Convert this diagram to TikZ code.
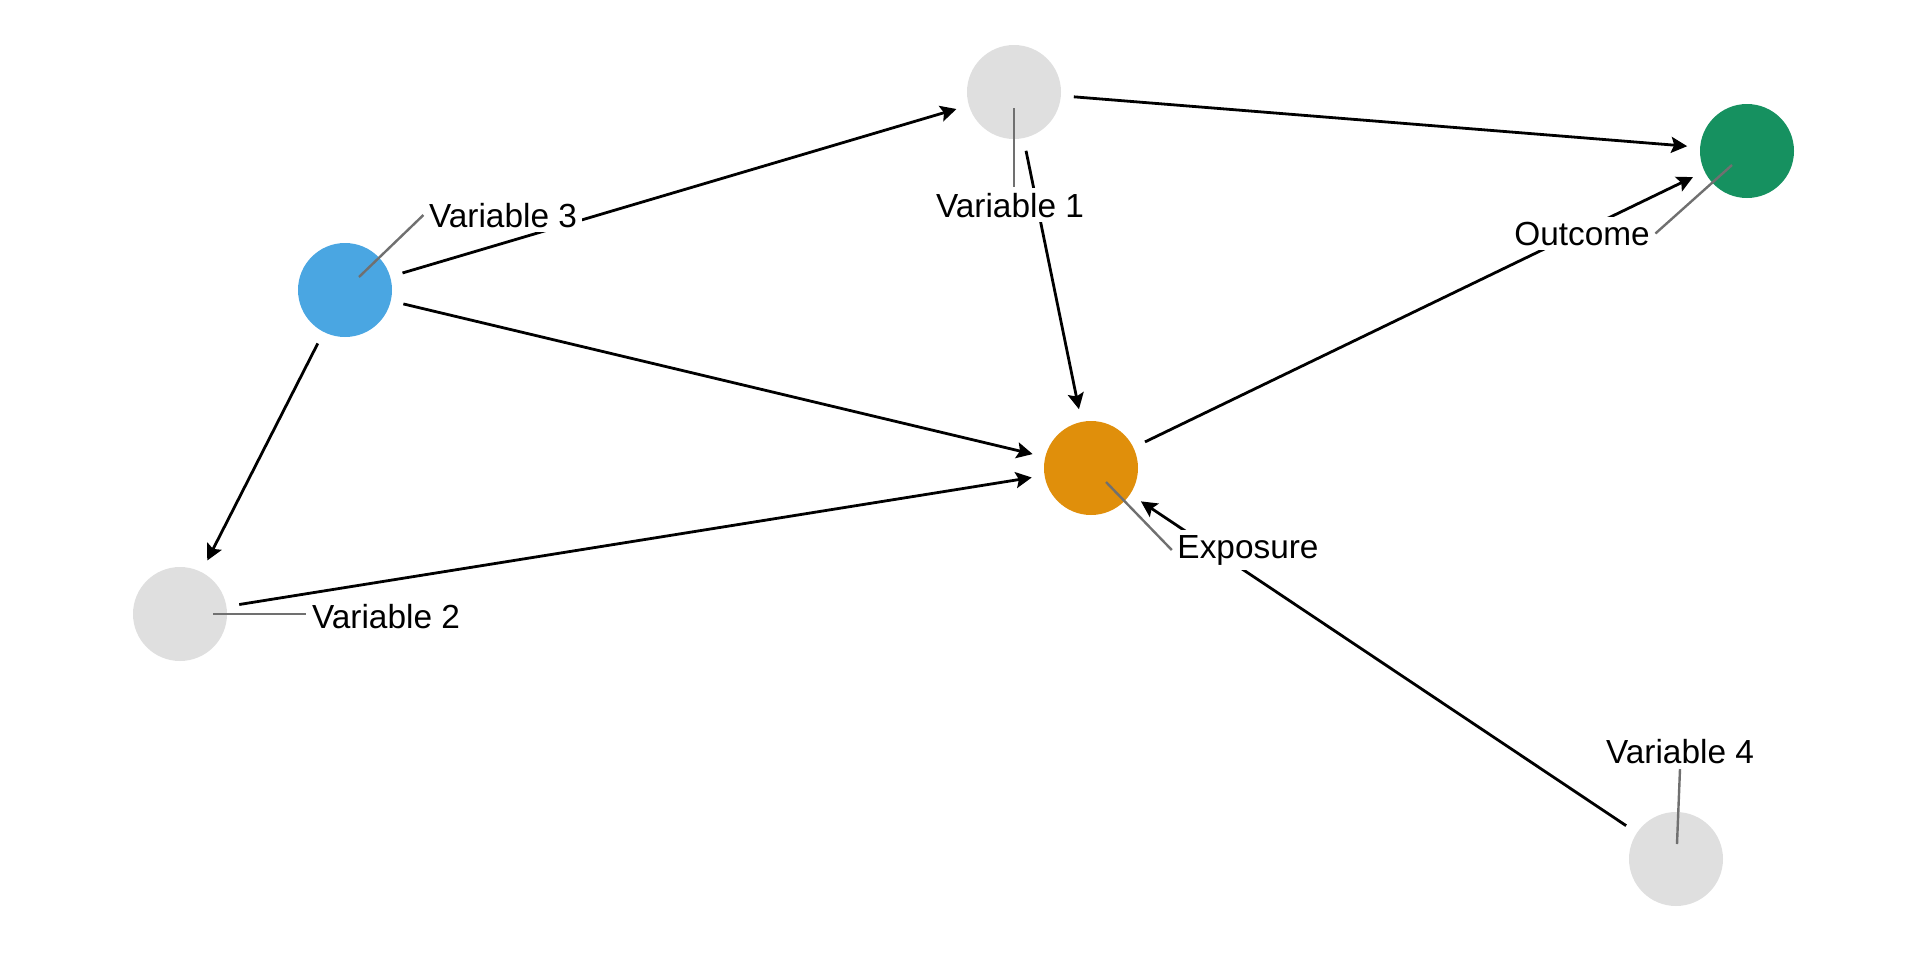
\documentclass[tikz,border=0pt]{standalone}
\usepackage{fontspec}
\setmainfont{Liberation Sans}
\usetikzlibrary{calc}
\usetikzlibrary{arrows.meta}

\definecolor{dagblue}{RGB}{74,166,226}
\definecolor{dagorange}{RGB}{224,143,11}
\definecolor{daggreen}{RGB}{22,145,96}
\definecolor{daggray}{RGB}{223,223,223}
\definecolor{leadgray}{RGB}{112,112,112}

\begin{document}
\begin{tikzpicture}[x=0.1mm,y=-0.1mm] %% tikz
		\tikzstyle{dot}=[circle,inner sep=0pt,minimum size=9.4mm,outer sep=1.3mm]
		\tikzstyle{edge}=[line width=0.28mm,-{Stealth[length=1.6mm,width=1.6mm,inset=0.3mm]}]
		\tikzstyle{leader}=[leadgray,line width=0.24mm]
		\tikzstyle{tag}=[fill=white,inner sep=0.5mm,anchor=base,font=\fontsize{9.5}{11}\selectfont]
		\useasboundingbox (0,0) rectangle (1920,960);
		%% nodes
		\node[dot,fill=daggray]   (v1)  at (1014,92)  {};
		\node[dot,fill=daggreen]  (out) at (1747,151) {};
		\node[dot,fill=dagblue]   (v3)  at (345,290)  {};
		\node[dot,fill=dagorange] (exp) at (1091,468) {};
		\node[dot,fill=daggray]   (v2)  at (180,614)  {};
		\node[dot,fill=daggray]   (v4)  at (1676,859) {};
		%% edges
		\draw[edge] (v3) -- (v1);
		\draw[edge] (v3) -- (exp);
		\draw[edge] (v3) -- (v2);
		\draw[edge] (v1) -- (out);
		\draw[edge] (v1) -- (exp);
		\draw[edge] (v2) -- (exp);
		\draw[edge] (exp) -- (out);
		\draw[edge] (v4) -- (exp);
		%% labels
		\node[tag] (lbl1) at (1010,217) {Variable 1};
		\node[tag] (lbl3) at (503,227)  {Variable 3};
		\node[tag] (lblo) at (1582,245) {Outcome};
		\node[tag] (lble) at (1248,558) {Exposure};
		\node[tag] (lbl2) at (386,628)  {Variable 2};
		\node[tag] (lbl4) at (1680,763) {Variable 4};
		%% leader lines
		\draw[leader] ($(v1.center)+(0,16)$)    -- (v1 |- lbl1.north);
		\draw[leader] ($(v3.center)+(14,-13)$)  -- (lbl3.west);
		\draw[leader] ($(out.center)+(-15,14)$) -- (lblo.east);
		\draw[leader] ($(exp.center)+(15,14)$)  -- (lble.west);
		\draw[leader] ($(v2.center)+(33,0)$)    -- (lbl2.west |- v2);
		\draw[leader] ($(v4.center)+(1,-15)$)   -- (lbl4.south);
	\end{tikzpicture}
\end{document}
